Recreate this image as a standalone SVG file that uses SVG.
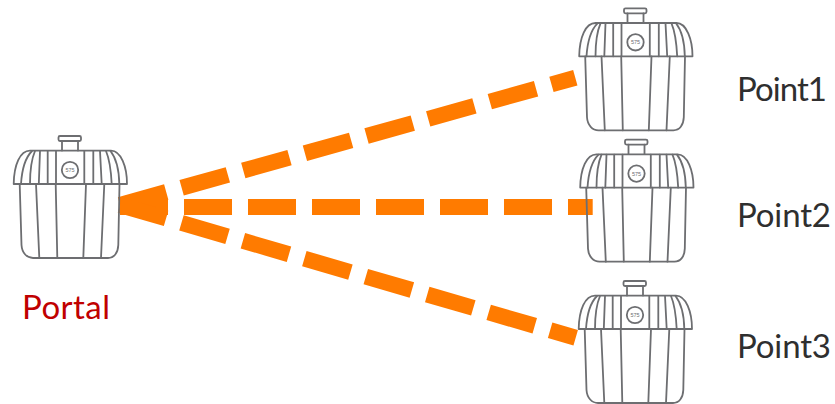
<svg xmlns="http://www.w3.org/2000/svg" width="835" height="404" viewBox="0 0 835 404">
<defs>
<style>
.k{fill:none;stroke:#6d6e71;stroke-width:1.8;stroke-linejoin:round;stroke-linecap:round}
.l{fill:none;stroke:#ff7b00;stroke-width:16;stroke-dasharray:48 16}
.t{font-family:"Lato","Liberation Sans",sans-serif;font-size:33px;fill:#2f2f2f}
.n{font-family:"Liberation Sans",sans-serif;font-size:5.500px;fill:#6d6e71;text-anchor:middle}
</style>
<g id="unit">
<rect class="k" x="58.500" y="136" width="22.500" height="5" rx="1.500"/>
<path class="k" d="M62 141V150.500M78 141V150.500"/>
<path class="k" d="M13.700 184C14 165 20 150.700 30 150.700H111C121 150.700 127 167 127 184Z"/>
<path class="k" d="M21 184C22 168 26 157 32 151M30 184C30 170 32 158 35 151M38.800 184L40 151M47.700 184V151M56 184V151M84.300 184V151M93.300 184V151M101.700 184L100 151M111.700 184C111 170 109 158 106 151M119.300 184C119 168 116 158 110.500 151"/>
<circle class="k" cx="70" cy="170" r="8.200"/>
<text class="n" x="70" y="172">575</text>
<path class="k" d="M19.700 184L21.500 245C22 253 27 258 33 258H108C114 258 118 253 118.300 245L119.500 184"/>
<path class="k" d="M36 184L39.300 258M55.700 184L57.300 258M86 184L83.300 258M104.300 184L101 258"/>
</g>
</defs>
<rect width="835" height="404" fill="#fff"/>
<g id="connectors">
<line class="l" x1="120" y1="205" x2="575.300" y2="77.700"/>
<line class="l" x1="120" y1="207" x2="592.700" y2="207"/>
<line class="l" x1="120" y1="205" x2="575.700" y2="337.700"/>
</g>
<g id="portal"><use href="#unit"/><text x="22" y="319" class="t" textLength="88" style="fill:#c00000">Portal</text></g>
<g id="point1"><use href="#unit" transform="translate(565.500,-127.700)"/><text x="737" y="101" class="t" textLength="90">Point1</text></g>
<g id="point2"><use href="#unit" transform="translate(566.500,3.600)"/><text x="737" y="227" class="t" textLength="94">Point2</text></g>
<g id="point3"><use href="#unit" transform="translate(565,145)"/><text x="737" y="358" class="t" textLength="94">Point3</text></g>
</svg>
